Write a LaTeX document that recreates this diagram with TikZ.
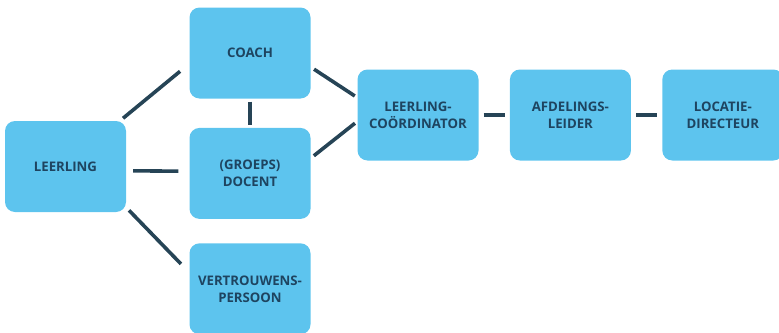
\documentclass[tikz,border=0pt]{standalone}
\usepackage{fontspec}
\setmainfont{Open Sans}
\usetikzlibrary{positioning}
\definecolor{boxblue}{RGB}{93,196,238}
\definecolor{textnavy}{RGB}{30,68,96}
\definecolor{linkslate}{RGB}{38,68,86}
\tikzset{
x=1pt, y=-1pt, % one unit is one pixel of the original
node distance=30pt, % gap between neighbouring boxes
every node/.style={font=\fontsize{13.2}{17}\selectfont\bfseries, text=textnavy},
role/.style={fill=boxblue, rounded corners=10pt, minimum width=121pt, minimum height=91pt, inner sep=0pt, align=center}, % the boxes
link/.style={draw=linkslate, line width=3.6pt, shorten <=4pt, shorten >=4pt}, % the plain connectors
}
\begin{document}
\begin{tikzpicture}
    \useasboundingbox (0,0) rectangle (779,332);
    \node[role] (lee) at (65.5,166.5) {LEERLING};
    \node[role] (coach) at (250,53) {COACH};
    \node[role, below=29pt of coach] (docent) {(GROEPS)\\DOCENT};
    \node[role, below=24pt of docent] (vertr) {VERTROUWENS-\\PERSOON};
    \node[role] (coord) at (418,115) {LEERLING-\\COÖRDINATOR};
    \node[role, right=31pt of coord] (afd) {AFDELINGS-\\LEIDER};
    \node[role, right=31pt of afd] (loc) {LOCATIE-\\DIRECTEUR};
    \draw[link] (lee.40) edge[shorten >=12pt] (coach.190)
    (lee.-4) edge[shorten <=7pt, shorten >=11pt] (docent.178)
    (lee.-34) edge[shorten >=12pt] (vertr.165)
    (coach.south) edge[shorten <=3pt, shorten >=3pt] (docent.north)
    (coach.-13) edge[shorten >=3pt] (coord.164)
    (docent.14) edge[shorten >=3pt] (coord.186)
    (coord.east) edge[shorten <=5pt, shorten >=5pt] (afd.west)
    (afd.east) edge[shorten <=5pt, shorten >=5pt] (loc.west);
\end{tikzpicture}
\end{document}
